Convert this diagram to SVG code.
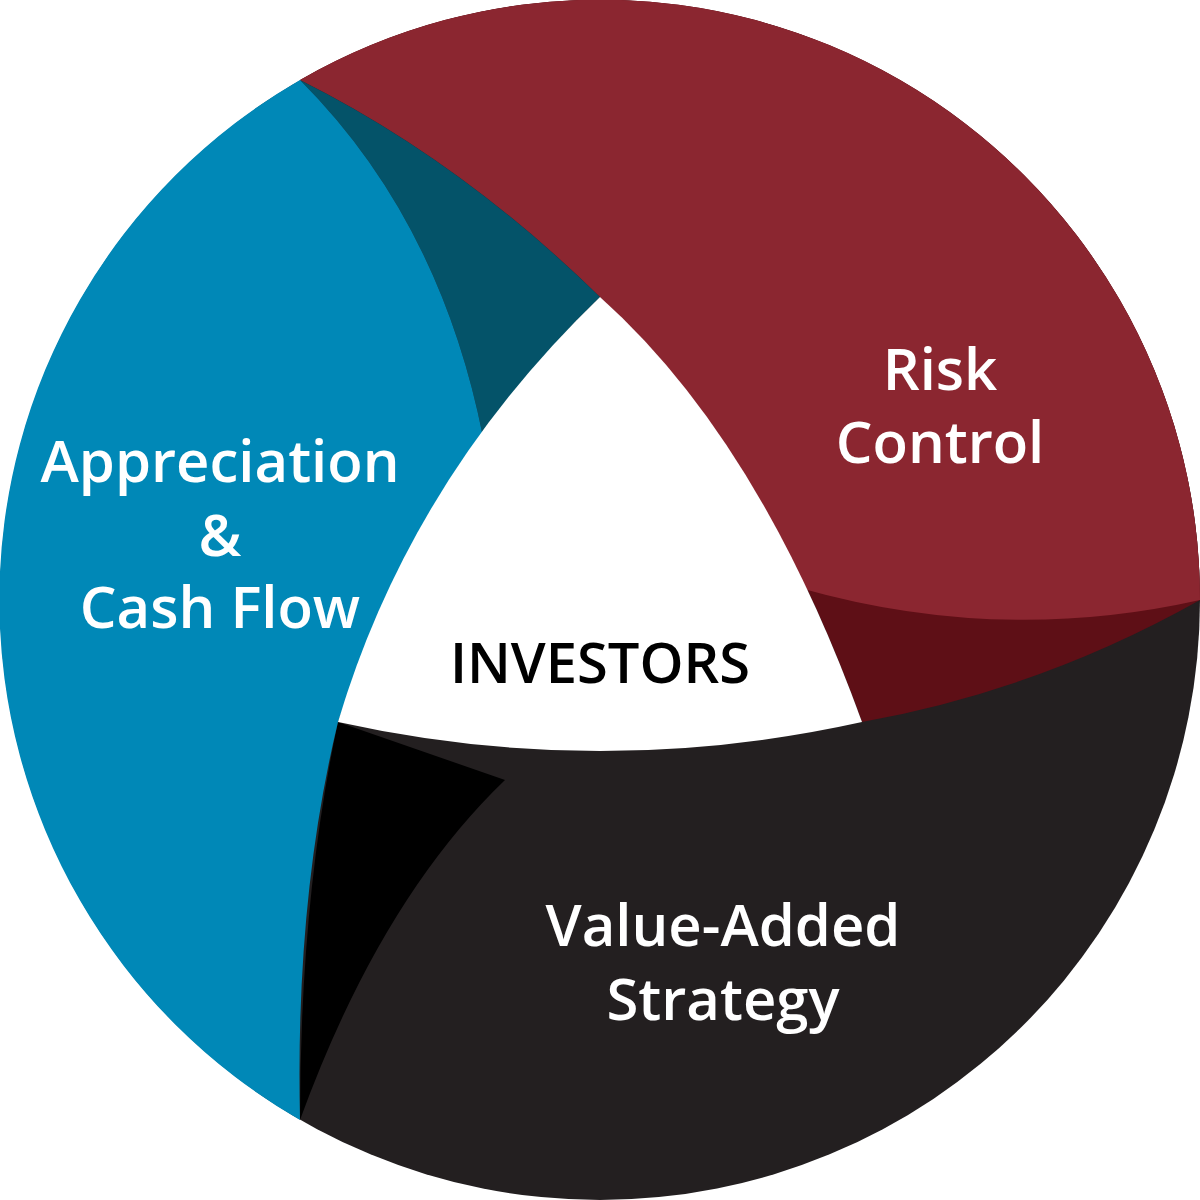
<svg xmlns="http://www.w3.org/2000/svg" width="1200" height="1200" viewBox="0 0 1200 1200">
<style>
.t{font-family:"Open Sans","Noto Sans",sans-serif;font-weight:600;font-size:58px;fill:#fff;text-anchor:middle}
.c{font-family:"Open Sans","Noto Sans",sans-serif;font-weight:600;font-size:56px;fill:#000;text-anchor:middle}
</style>
<g id="value-added">
<circle cx="600" cy="600" r="600" fill="#231f20"/>
<path d="M300,1120 Q380,900 505,780 L338,722 Q300,900 300,1120 Z" fill="#000"/>
</g>
<g id="risk-control">
<path d="M300,80 A600,600 0 0 1 1200,600 Q1040,690 862,722 Q760,440 600,297 Q460,160 300,80 Z" fill="#5e0f16"/>
<path d="M300,80 A600,600 0 0 1 1200,600 Q1000,645 800,588 Q720,430 600,297 Q460,160 300,80 Z" fill="#8b2630"/>
</g>
<g id="appreciation">
<path d="M300,80 Q460,160 600,297 Q530,365 483,437 Q440,220 300,80 Z" fill="#045369"/>
<path d="M300,80 A600,600 0 0 0 300,1120 Q295,900 338,722 Q395,560 483,437 Q440,220 300,80 Z" fill="#0088b7"/>
</g>
<g id="investors">
<path d="M600,297 Q760,440 862,722 Q600,780 338,722 Q410,480 600,297 Z" fill="#fff"/>
<text class="c" x="600" y="683">INVESTORS</text>
</g>
<g id="labels">
<text class="t" x="940" y="390">Risk</text>
<text class="t" x="940" y="463">Control</text>
<text class="t" x="220" y="482">Appreciation</text>
<text class="t" x="220" y="556">&amp;</text>
<text class="t" x="220" y="628">Cash Flow</text>
<text class="t" x="723" y="946">Value-Added</text>
<text class="t" x="723" y="1020">Strategy</text>
</g>
<g id="connectors"/>
</svg>
